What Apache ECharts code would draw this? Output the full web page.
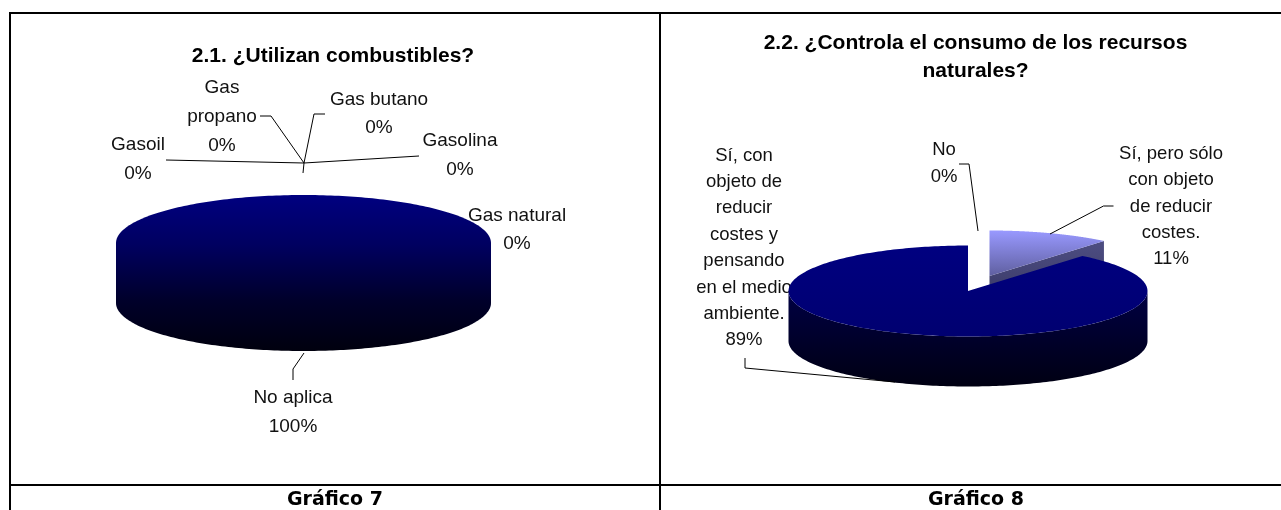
<!DOCTYPE html>
<html><head><meta charset="utf-8">
<style>html,body{margin:0;padding:0;background:#fff}#c{width:1281px;height:510px}</style>
<script src="https://cdn.jsdelivr.net/npm/echarts@6/dist/echarts.min.js"></script>
</head><body><div id="c"></div>
<script>
// ---- data ----
const leftCategories = ['Gas natural','Gasolina','Gas butano','Gas propano','Gasoil','No aplica'];
const leftValues = [0,0,0,0,0,100];
const rightCategories = ['Sí, pero sólo con objeto de reducir costes.','Sí, con objeto de reducir costes y pensando en el medio ambiente.','No'];
const rightValues = [11,89,0];
const captions = ['Gráfico 7','Gráfico 8'];
const titles = ['2.1. ¿Utilizan combustibles?',['2.2. ¿Controla el consumo de los recursos','naturales?']];

// ---- layout ----
const pieLeft = {cx:303.5,cy:243,rx:187.5,ry:48,depth:60};
const pieRight = {cx:968,cy:291,rx:179.5,ry:45.5,depth:50};
const explode = {dx:21.5,dy:-15};
const leftLabelLayout = [
 {wrap:['Gas natural'],x:517,y:[216,244]},
 {wrap:['Gasolina'],x:460,y:[141,170]},
 {wrap:['Gas butano'],x:379,y:[100,128]},
 {wrap:['Gas','propano'],x:222,y:[88,117,146]},
 {wrap:['Gasoil'],x:138,y:[145,174]},
 {wrap:['No aplica'],x:293,y:[398,427]}
];
const rightLabelLayout = [
 {wrap:['Sí, pero sólo','con objeto','de reducir','costes.'],x:1171,y:[154,180,207,233,259]},
 {wrap:['Sí, con','objeto de','reducir','costes y','pensando','en el medio','ambiente.'],x:744,y:[156,182,208,235,261,288,314,340]},
 {wrap:['No'],x:944,y:[150,177]}
];
const leaders = [
 [[304,163],[419,156]],
 [[304,163],[166,160]],
 [[304,163],[271,116],[260,116]],
 [[304,163],[314,114],[325,114]],
 [[304,163],[303,173]],
 [[304,353],[293,369],[293,380]],
 [[1050,234],[1103.5,206],[1113.5,206]],
 [[978,231],[969,164],[959,164]],
 [[895,382],[745,368],[745,358]]
];

function arc(p,start,end,n){const pts=[];for(let i=0;i<=n;i++){const a=start+(end-start)*i/n;pts.push([p.cx+p.rx*Math.sin(a),p.cy-p.ry*Math.cos(a)]);}return pts;}
function grad(stops,y0,y1){return {type:'linear',global:true,x:0,y:y0,x2:0,y2:y1,colorStops:stops};}
const navyTop=[{offset:0,color:'#000080'},{offset:1,color:'#000070'}];
const navySide=[{offset:0,color:'#000044'},{offset:1,color:'#000012'}];
const lightTop=[{offset:0,color:'#9999ff'},{offset:1,color:'#55558f'}];
const lightSide=[{offset:0,color:'#4c4c80'},{offset:1,color:'#30305a'}];
const wholeStops=[{offset:0,color:'#000080'},{offset:0.32,color:'#000060'},{offset:0.68,color:'#00002a'},{offset:1,color:'#00000e'}];

function wall(p,a0,a1,fill,full){
  const lo=Math.max(a0,Math.PI/2),hi=Math.min(a1,Math.PI*1.5);
  if(hi<=lo)return null;
  const top=arc(p,lo,hi,160);
  const bottom=top.map(q=>[q[0],q[1]+p.depth]).reverse();
  // a whole disc has no cut, so its wall runs up under the top face to hide the seam
  const upper=full?[top[0],[p.cx,p.cy],top[top.length-1]]:top;
  return {type:'polygon',shape:{points:upper.concat(bottom)},style:{fill}};
}
// a slice's angles come from its share of the series total
function pieEls(p,values,paint,explodeIdx){
  const total=values.reduce((a,b)=>a+b,0);let acc=0;const back=[],front=[];
  values.forEach((v,i)=>{
    const a0=acc/total*2*Math.PI;acc+=v;const a1=acc/total*2*Math.PI;
    if(v===0)return;
    const q=i===explodeIdx?{...p,cx:p.cx+explode.dx,cy:p.cy+explode.dy}:p;
    const c=paint(i,q);const out=i===explodeIdx?back:front;const full=a1-a0>=2*Math.PI-1e-6;
    if(i===explodeIdx){
      const e=[q.cx+q.rx*Math.sin(a1),q.cy-q.ry*Math.cos(a1)];
      out.push({type:'polygon',shape:{points:[[q.cx,q.cy],e,[e[0],e[1]+q.depth],[q.cx,q.cy+q.depth]]},style:{fill:c.side}});
    }
    const w=wall(q,a0,a1,c.side,full);if(w)out.push(w);
    const pts=arc(q,a0,a1,300);if(!full)pts.push([q.cx,q.cy]);
    out.push({type:'polygon',shape:{points:pts},style:{fill:c.top}});
  });
  return back.concat(front);
}
const font='"Liberation Sans",Arial,sans-serif';
const textColor='#111';
function labelEls(layout,values,size){const out=[];layout.forEach((l,i)=>{[...l.wrap,values[i]+'%'].forEach((s,k)=>out.push({type:'text',style:{text:s,x:l.x,y:l.y[k],align:'center',verticalAlign:'middle',fontFamily:font,fontSize:size,fill:textColor}}));});return out;}
const bold=(text,x,y,size,fam)=>({type:'text',style:{text,x,y,align:'center',verticalAlign:'middle',fontFamily:fam||font,fontWeight:'bold',fontSize:size,fill:'#000'}});
const rule=(x1,y1,x2,y2)=>({type:'line',shape:{x1,y1,x2,y2},style:{stroke:'#000',lineWidth:2}});

const option={
 animation:false,backgroundColor:'#fff',
 series:[{
  type:'custom',coordinateSystem:'none',silent:true,data:[0],
  renderItem:function(){
    const kids=[...labelEls(leftLabelLayout,leftValues,19),...labelEls(rightLabelLayout,rightValues,18.5)];
    kids.push(...pieEls(pieLeft,leftValues,(i,q)=>({top:grad(wholeStops,q.cy-q.ry,q.cy+q.ry+q.depth),side:grad(wholeStops,q.cy-q.ry,q.cy+q.ry+q.depth)}),-1));
    kids.push(...pieEls(pieRight,rightValues,(i,q)=>i===0
      ?{top:grad(lightTop,q.cy-q.ry,q.cy+8),side:grad(lightSide,q.cy-30,q.cy+q.depth)}
      :{top:grad(navyTop,q.cy-q.ry,q.cy+q.ry),side:grad(navySide,q.cy,q.cy+q.ry+q.depth)},0));
    leaders.forEach(pts=>kids.push({type:'polyline',shape:{points:pts},style:{stroke:'#000',lineWidth:1,fill:'none'}}));
    return {type:'group',children:kids};
  }
 }],
 graphic:[
  rule(10,13,1281,13),rule(10,12,10,510),rule(660,13,660,510),rule(10,485,1281,485),
  bold(titles[0],333,56.5,21),
  bold(titles[1][0],975.5,43,21),
  bold(titles[1][1],975.5,71,21),
  bold(captions[0],335,500,19,'"DejaVu Sans",sans-serif'),
  bold(captions[1],976,500,19,'"DejaVu Sans",sans-serif')
 ]
};
echarts.init(document.getElementById('c'),null,{renderer:'canvas'}).setOption(option);
</script></body></html>
